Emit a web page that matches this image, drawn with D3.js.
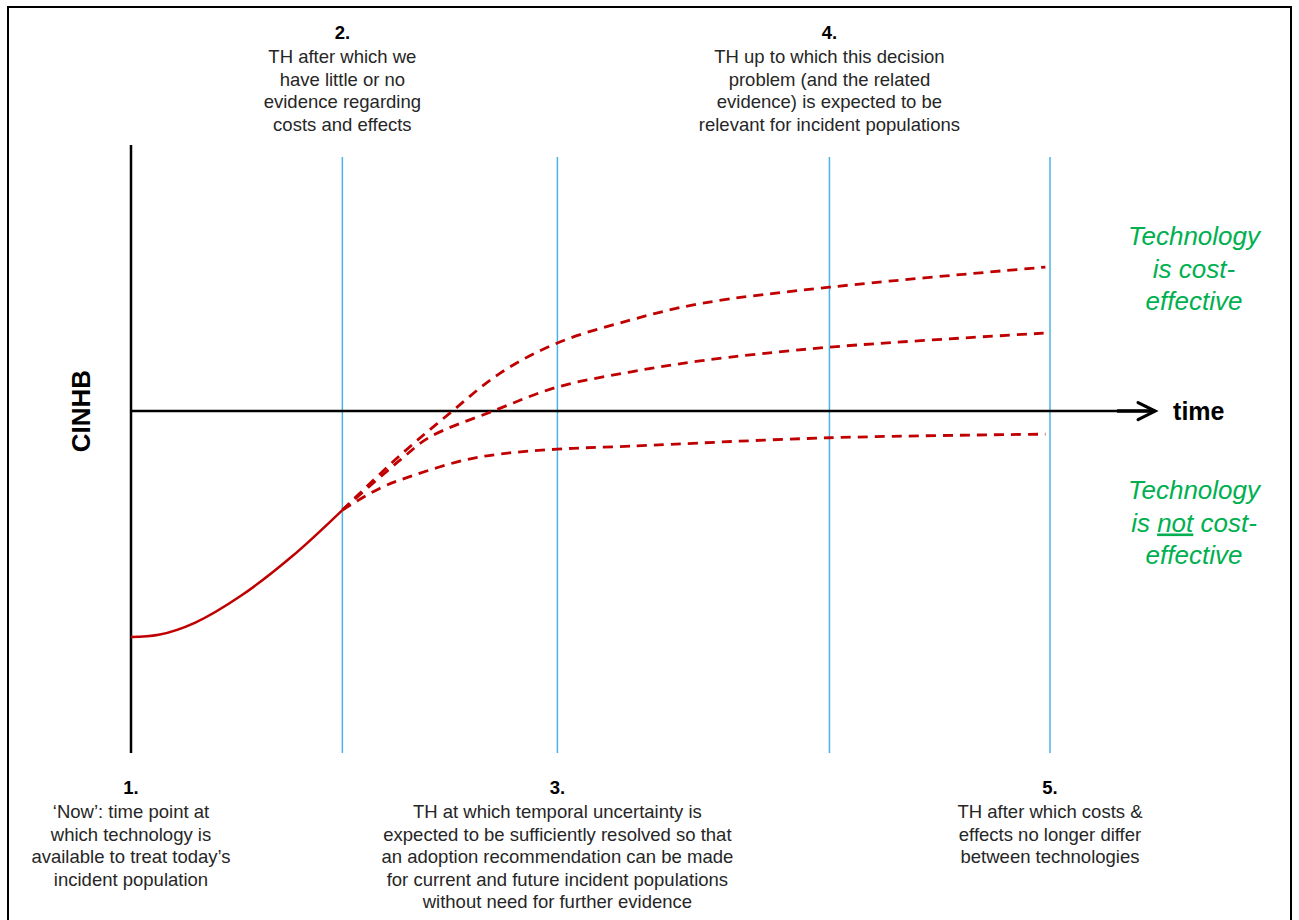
<!DOCTYPE html>
<html>
<head>
<meta charset="utf-8">
<script src="https://cdn.jsdelivr.net/npm/d3@7/dist/d3.min.js"></script>
<style>
  html, body { margin: 0; padding: 0; background: #fff; }
  svg { display: block; font-family: "Liberation Sans", Arial, sans-serif; }
</style>
</head>
<body>
<svg id="chart" width="1299" height="920"></svg>
<script>
// ---- Data ----
// time horizon positions (TH 1..5), time units
const thTimes = [0, 23, 46.4, 76, 100];
const thNumbers = ["1.", "2.", "3.", "4.", "5."];
const thLabels = [
  ["\u2018Now\u2019:  time point at", "which technology is", "available to treat today\u2019s", "incident population"],
  ["TH after which we", "have little or no", "evidence regarding", "costs and effects"],
  ["TH at which temporal uncertainty is", "expected to be sufficiently resolved so that", "an adoption recommendation can be made", "for current and future incident populations", "without need for further evidence"],
  ["TH up to which this decision", "problem (and the related", "evidence) is expected to be", "relevant for incident populations"],
  ["TH after which costs &", "effects no longer differ", "between technologies"]
];
const thLabelSide = ["bottom", "top", "bottom", "top", "bottom"];

// observed CINHB path (solid)
const solidTime = [0, 3, 7, 12, 17.5, 23];
const solidCINHB = [-75.3, -74.6, -70.5, -61.5, -48.5, -33];

// projected scenarios (dashed)
const highTime = [23, 29.3, 34.7, 40.1, 46.4, 54.3, 61.9, 76, 99.5];
const highCINHB = [-33, -14.7, -0.7, 12.5, 22.7, 30.3, 35.8, 41.3, 48];
const midTime = [23, 29.3, 32.5, 39.4, 46.4, 54.3, 61.9, 76, 99.5];
const midCINHB = [-33, -16.3, -8.7, 0, 8, 13, 16.7, 21.3, 26];
const lowTime = [23, 27.1, 30.4, 36.1, 40.2, 46.4, 54.3, 76, 99.5];
const lowCINHB = [-33, -25.7, -21.8, -16.5, -14.3, -12.7, -11.7, -8.9, -7.7];

const axisTimeMax = 111;   // end of time arrow
const cinhbMin = -114, cinhbMax = 88.7;
const thLineTop = 84.7;

// ---- Drawing ----
const svg = d3.select("#chart");
const x = d3.scaleLinear().domain([0, 100]).range([131, 1050]);
const y = d3.scaleLinear().domain([cinhbMin, cinhbMax]).range([753, 145]);

const RED = "#C00000", BLUE = "#4BB4E6", GREEN = "#00B050", TXT = "#262626";

// outer frame
svg.append("rect").attr("x", 8).attr("y", 7).attr("width", 1283).attr("height", 930)
  .attr("fill", "none").attr("stroke", "#000").attr("stroke-width", 2);

// threshold lines
svg.selectAll("line.th").data(thTimes.slice(1)).join("line")
  .attr("class", "th")
  .attr("x1", d => x(d)).attr("x2", d => x(d))
  .attr("y1", y(thLineTop)).attr("y2", y(cinhbMin))
  .attr("stroke", BLUE).attr("stroke-width", 1.5);

// axes
svg.append("line").attr("x1", x(0)).attr("x2", x(0)).attr("y1", y(cinhbMax)).attr("y2", y(cinhbMin))
  .attr("stroke", "#000").attr("stroke-width", 2.5);
const ax = x(axisTimeMax) + 4, ay = y(0);
svg.append("line").attr("x1", x(0)).attr("x2", ax - 2).attr("y1", ay).attr("y2", ay)
  .attr("stroke", "#000").attr("stroke-width", 2.5);
svg.append("line").attr("x1", x(107.3)).attr("x2", ax - 2).attr("y1", ay).attr("y2", ay)
  .attr("stroke", "#000").attr("stroke-width", 3.5);
svg.append("path").attr("d", `M${ax - 17},${ay - 8.5} L${ax},${ay} L${ax - 17},${ay + 8.5}`)
  .attr("fill", "none").attr("stroke", "#000").attr("stroke-width", 3.2)
  .attr("stroke-linejoin", "miter").attr("stroke-linecap", "round");
svg.append("text").attr("x", ax + 18).attr("y", ay + 9)
  .attr("font-size", 25).attr("font-weight", "bold").attr("fill", "#000").text("time");

// y label
svg.append("text").attr("transform", `translate(${90},${y(0)}) rotate(-90)`)
  .attr("text-anchor", "middle").attr("font-size", 26).attr("font-weight", "bold").attr("fill", "#000")
  .text("CINHB");

// curves
const line = d3.line().x(d => x(d[0])).y(d => y(d[1])).curve(d3.curveCatmullRom.alpha(0.5));
svg.append("path").datum(d3.zip(solidTime, solidCINHB)).attr("d", line)
  .attr("fill", "none").attr("stroke", RED).attr("stroke-width", 2.5);
[[highTime, highCINHB], [midTime, midCINHB], [lowTime, lowCINHB]].forEach(([t, v]) => {
  svg.append("path").datum(d3.zip(t, v)).attr("d", line)
    .attr("fill", "none").attr("stroke", RED).attr("stroke-width", 2.8)
    .attr("stroke-dasharray", "10,7");
});

// threshold annotations
const LH = 22.6;
thTimes.forEach((t, i) => {
  const cx = x(t);
  const top = thLabelSide[i] === "top";
  const numY = top ? 39 : 794;
  const g = svg.append("g").attr("text-anchor", "middle");
  g.append("text").attr("x", cx).attr("y", numY).attr("font-size", 18.5)
    .attr("font-weight", "bold").attr("fill", "#000").text(thNumbers[i]);
  thLabels[i].forEach((s, j) => {
    g.append("text").attr("x", cx).attr("y", numY + 24 + j * LH)
      .attr("font-size", 18.5).attr("fill", TXT).text(s);
  });
});

// region labels
const gx = 1194;
const up = svg.append("text").attr("text-anchor", "middle").attr("font-size", 26)
  .attr("font-style", "italic").attr("fill", GREEN);
["Technology", "is cost-", "effective"].forEach((s, j) =>
  up.append("tspan").attr("x", gx).attr("y", 245 + j * 32.5).text(s));
const dn = svg.append("text").attr("text-anchor", "middle").attr("font-size", 26)
  .attr("font-style", "italic").attr("fill", GREEN);
dn.append("tspan").attr("x", gx).attr("y", 499).text("Technology");
const l2 = dn.append("tspan").attr("x", gx).attr("y", 531.5);
l2.append("tspan").text("is ");
l2.append("tspan").attr("text-decoration", "underline").text("not");
l2.append("tspan").text(" cost-");
dn.append("tspan").attr("x", gx).attr("y", 564).text("effective");
</script>
</body>
</html>
